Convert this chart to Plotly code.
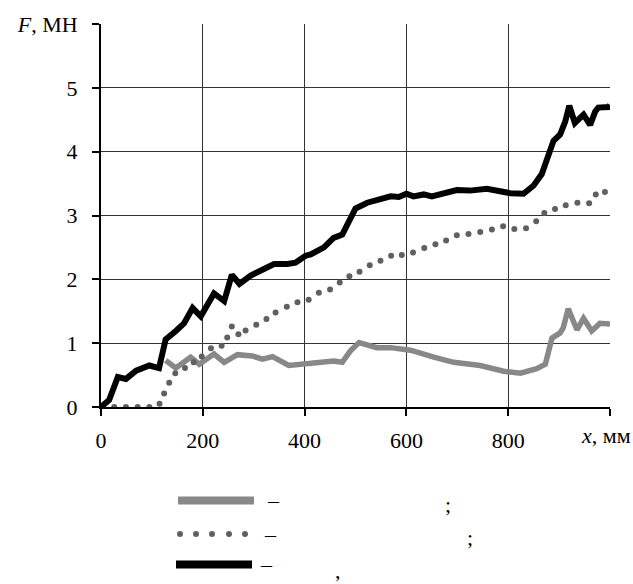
import plotly.graph_objects as go

# ---- data ----
black_x = [0, 3, 16, 33, 49, 69, 95, 114, 127, 147, 163, 180, 196, 222, 242, 257, 272, 294, 317, 340,
           366, 382, 402, 412, 438, 457, 474, 487, 500, 523, 549, 569, 585, 600, 614, 634, 650, 673,
           699, 725, 758, 784, 804, 830, 850, 866, 879, 889, 902, 912, 920, 931, 948, 961, 971, 977, 997, 1000]
black_f = [0, 0.02, 0.11, 0.47, 0.44, 0.57, 0.65, 0.61, 1.06, 1.19, 1.31, 1.55, 1.42, 1.78, 1.66, 2.07, 1.93, 2.06, 2.14, 2.24,
           2.24, 2.26, 2.37, 2.39, 2.50, 2.65, 2.70, 2.93, 3.11, 3.20, 3.25, 3.30, 3.29, 3.34, 3.30, 3.33, 3.30, 3.35,
           3.40, 3.39, 3.42, 3.38, 3.35, 3.34, 3.47, 3.65, 3.91, 4.17, 4.27, 4.47, 4.72, 4.45, 4.58, 4.42, 4.63, 4.69, 4.70, 4.73]

grey_x = [127, 147, 176, 193, 222, 242, 268, 297, 317, 337, 369, 392, 418, 441, 457, 474, 490, 507, 523, 542,
          569, 608, 654, 693, 745, 791, 824, 856, 873, 886, 902, 908, 918, 935, 948, 964, 980, 1000]
grey_f = [0.73, 0.61, 0.78, 0.67, 0.83, 0.70, 0.82, 0.80, 0.75, 0.79, 0.65, 0.67, 0.69, 0.72, 0.72, 0.70, 0.88, 1.01, 0.98, 0.93,
          0.93, 0.89, 0.78, 0.70, 0.65, 0.56, 0.53, 0.60, 0.67, 1.08, 1.16, 1.24, 1.54, 1.21, 1.39, 1.19, 1.31, 1.30]

dot_x = [3, 26, 49, 72, 95, 115, 124, 134, 146, 165, 182, 198, 216, 237, 248, 257, 270, 284, 305, 325, 343, 365, 386, 408,
         428, 450, 469, 488, 508, 528, 549, 570, 591, 613, 635, 657, 678, 699, 722, 745, 768, 790, 812, 835,
         855, 871, 892, 913, 936, 959, 972, 990]
dot_f = [0, 0, 0, 0, 0, 0.05, 0.21, 0.38, 0.53, 0.61, 0.70, 0.79, 0.92, 0.96, 1.09, 1.26, 1.14, 1.20, 1.29, 1.38, 1.48, 1.57, 1.64, 1.68,
         1.79, 1.84, 1.95, 2.05, 2.12, 2.22, 2.29, 2.37, 2.38, 2.42, 2.49, 2.55, 2.61, 2.69, 2.71, 2.74, 2.78, 2.83, 2.79, 2.80,
         2.91, 3.04, 3.10, 3.16, 3.20, 3.19, 3.33, 3.37]

x_ticks = [0, 200, 400, 600, 800, 1000]
x_ticktext = ["0", "200", "400", "600", "800", ""]
y_ticks = [0, 1, 2, 3, 4, 5, 6]
y_ticktext = ["0", "1", "2", "3", "4", "5", "<i>F</i>, МН"]
x_label = "<i>x</i>, мм"

GREY = "#888888"
DOT = "#606060"
FONT = "Liberation Serif"

W, H = 633, 584
L, R, T, B = 101, 23, 18, 177
PW, PH = W - L - R, H - T - B


def px(xp):
    return (xp - L) / PW


def py(yp):
    return (H - B - yp) / PH


fig = go.Figure()
fig.add_trace(go.Scatter(x=grey_x, y=grey_f, mode="lines",
                         line=dict(color=GREY, width=5.5), showlegend=False))
fig.add_trace(go.Scatter(x=dot_x, y=dot_f, mode="markers",
                         marker=dict(color=DOT, size=6), showlegend=False))
fig.add_trace(go.Scatter(x=black_x, y=black_f, mode="lines",
                         line=dict(color="black", width=6), showlegend=False))

shapes = []
# legend samples
shapes.append(dict(type="line", xref="paper", yref="paper", x0=px(178), x1=px(254), y0=py(502), y1=py(502),
                   line=dict(color=GREY, width=8)))
for xc in [180, 196, 212, 229, 245]:
    shapes.append(dict(type="circle", xref="paper", yref="paper", x0=px(xc - 3), x1=px(xc + 3),
                       y0=py(536 + 3), y1=py(536 - 3), fillcolor=DOT, line=dict(width=0)))
shapes.append(dict(type="line", xref="paper", yref="paper", x0=px(176), x1=px(252), y0=py(567), y1=py(567),
                   line=dict(color="black", width=8)))

annotations = []
annotations.append(dict(text=x_label, xref="paper", yref="paper", x=px(633), y=py(436), xanchor="right",
                        yanchor="middle", showarrow=False, font=dict(family=FONT, size=22, color="black")))
leg_txt = [("–", 273, 502), (";", 448, 506), ("–", 270, 536), (";", 470, 540), ("–", 266, 567), (",", 338, 573)]
for t, xx, yy in leg_txt:
    annotations.append(dict(text=t, xref="paper", yref="paper", x=px(xx), y=py(yy), xanchor="center",
                            yanchor="middle", showarrow=False, font=dict(family=FONT, size=22, color="black")))

fig.update_layout(
    width=W, height=H,
    margin=dict(l=L, r=R, t=T, b=B, pad=0),
    paper_bgcolor="white", plot_bgcolor="white",
    shapes=shapes, annotations=annotations,
    xaxis=dict(range=[0, 1000], tickvals=x_ticks, ticktext=x_ticktext, showgrid=True,
               gridcolor="#333333", gridwidth=1, showline=True, linecolor="black", linewidth=2,
               ticks="outside", ticklen=7, tickwidth=1.5, tickcolor="black", zeroline=False,
               tickfont=dict(family=FONT, size=22, color="black"), ticklabelstandoff=6),
    yaxis=dict(range=[0, 6], tickvals=y_ticks, ticktext=y_ticktext, showgrid=True,
               gridcolor="#333333", gridwidth=1, showline=True, linecolor="black", linewidth=2,
               ticks="outside", ticklen=7, tickwidth=1.5, tickcolor="black", zeroline=False,
               tickfont=dict(family=FONT, size=22, color="black"), ticklabelstandoff=10),
)

fig.write_html("out.html")
